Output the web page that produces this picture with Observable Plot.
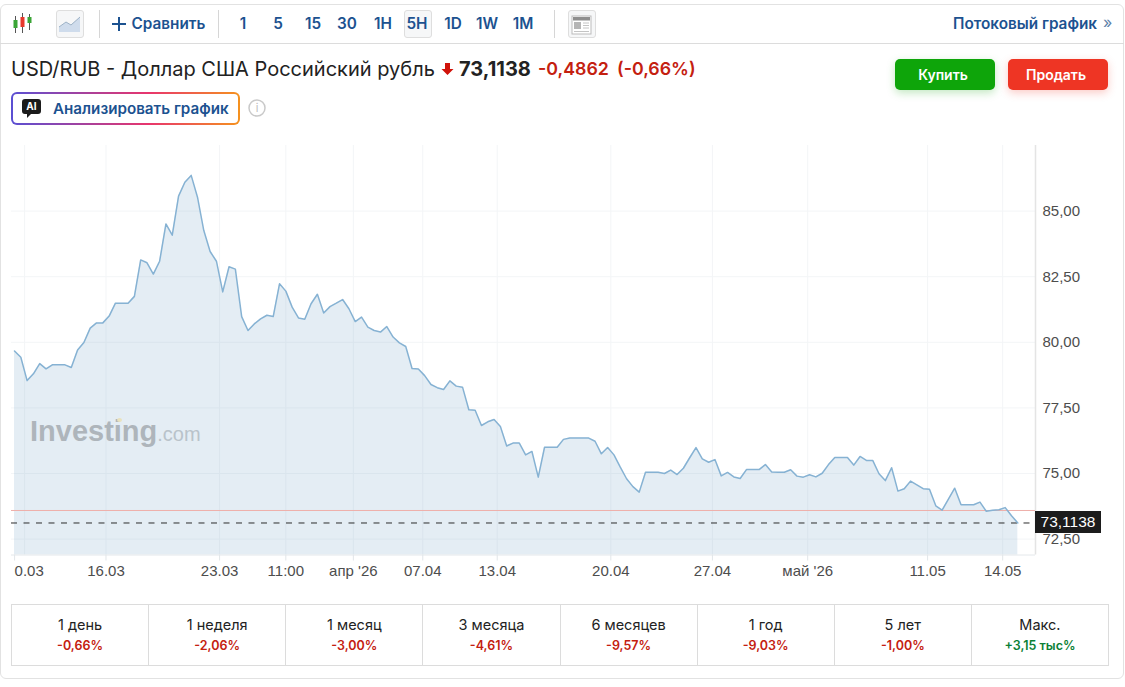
<!DOCTYPE html>
<html lang="ru">
<head>
<meta charset="utf-8">
<title>USD/RUB</title>
<script src="https://cdn.jsdelivr.net/npm/d3@7"></script>
<script src="https://cdn.jsdelivr.net/npm/@observablehq/plot@0.6"></script>
<style>
html,body{margin:0;padding:0;background:#fff;}
body{width:1125px;height:687px;position:relative;overflow:hidden;font-family:Inter,"Noto Sans",sans-serif;color:#1f1f1f;}
.abs{position:absolute;white-space:nowrap;}
#card{left:0;top:4px;width:1122px;height:673px;border:1px solid #e2e2e2;border-radius:6px;}
#rule{left:0;top:43px;width:1124px;height:1px;background:#dcdcdc;}
.sep{width:1px;height:28px;top:10px;background:#d6d6d6;}
.tb{top:10px;height:28px;line-height:28px;font-size:15.3px;font-weight:600;color:#1c5290;transform:translateX(-50%);}
.btnbox{top:10px;width:26px;height:26px;border:1px solid #dedede;border-radius:3px;background:#f6f7f8;}
.trade{top:59px;width:96px;padding-right:4px;height:31px;line-height:31px;border-radius:5px;text-align:center;color:#fff;font-size:14px;font-weight:600;}
#chart{position:absolute;left:0;top:140px;}
#chart svg{overflow:visible;display:block;}
#price{left:1035px;width:66px;height:22px;line-height:22px;background:#1c1c1c;color:#fff;text-align:center;font:15.5px/22px "Liberation Sans",Arial,sans-serif;}
#wm{left:30px;top:413px;font:bold 29px/36px "Liberation Sans",Arial,sans-serif;color:#aeb5bb;}
#wm span{font-weight:normal;font-size:20px;color:#b9c3ca;}
#wmdot{left:117px;top:418px;width:5px;height:4px;border-radius:50%;background:#e9e2bd;}
#perf{left:11px;top:604px;width:1096px;height:60px;border:1px solid #dcdcdc;display:flex;}
#perf .cell{flex:1;border-left:1px solid #dcdcdc;text-align:center;}
#perf .cell:first-child{border-left:none;}
#perf .a{font-size:14.5px;line-height:18px;margin-top:11px;color:#222;}
#perf .b{font-size:12.5px;line-height:16px;margin-top:4px;font-weight:600;}
</style>
</head>
<body>
<div class="abs" id="card"></div>
<div class="abs" id="rule"></div>

<svg class="abs" style="left:12px;top:12px" width="22" height="22" viewBox="0 0 22 22">
<g stroke="#555" stroke-width="1"><line x1="3.5" y1="4" x2="3.5" y2="21"/><line x1="10.5" y1="1" x2="10.5" y2="21"/><line x1="17.5" y1="2" x2="17.5" y2="18"/></g>
<rect x="1.5" y="8" width="4" height="8" fill="#3aa536"/><rect x="8.5" y="5" width="4" height="10" fill="#e8382c"/><rect x="15.5" y="5" width="4" height="6" fill="#3aa536"/>
</svg>
<div class="abs btnbox" style="left:56px"></div>
<svg class="abs" style="left:59px;top:15px" width="22" height="18" viewBox="0 0 22 18">
<path d="M0 12 L7 7 L12 10 L21 2 V17 H0Z" fill="#cfdcec"/><path d="M0 12 L7 7 L12 10 L21 2" fill="none" stroke="#9db2c6" stroke-width="1"/>
</svg>
<div class="abs sep" style="left:99px"></div>
<svg class="abs" style="left:111px;top:16px" width="16" height="16" viewBox="0 0 16 16"><path d="M8 1V15M1 8H15" stroke="#1c5290" stroke-width="2"/></svg>
<div class="abs tb" style="left:168.5px">Сравнить</div>
<div class="abs sep" style="left:218px"></div>
<div class="abs btnbox" style="left:404px"></div>
<div class="abs sep" style="left:554px"></div>
<div class="abs btnbox" style="left:568px"></div>
<svg class="abs" style="left:571px;top:15px" width="22" height="20" viewBox="0 0 22 20">
<rect x="1" y="1" width="19" height="18" fill="#fff" stroke="#bbb"/><rect x="2" y="2" width="17" height="3.5" fill="#8f8f8f"/><rect x="3" y="7" width="7" height="7" fill="#b5b5b5"/>
<path d="M12 8H18M12 10.5H18M12 13H18M3 16.5H18" stroke="#c4c4c4"/>
</svg>
<div class="abs tb" style="left:1025px">Потоковый график</div>
<div class="abs" style="left:1103px;top:12px;font-size:16px;color:#5d80a8">»</div>

<div class="abs" style="left:11px;top:56px;font-size:20px;line-height:26px;color:#222">USD/RUB - Доллар США Российский рубль</div>
<svg class="abs" style="left:441px;top:62px" width="13" height="14" viewBox="0 0 13 14"><path d="M4 1H9V7H12.5L6.5 13L.5 7H4Z" fill="#d0130a"/></svg>
<div class="abs" style="left:459px;top:56px;font-size:20px;font-weight:700;line-height:26px;color:#222">73,1138</div>
<div class="abs" style="left:538px;top:56px;font-size:17.8px;font-weight:600;line-height:26px;color:#c4200f">-0,4862</div>
<div class="abs" style="left:617px;top:56px;font-size:17.8px;font-weight:600;line-height:26px;color:#c4200f">(-0,66%)</div>

<div class="abs trade" style="left:895px;background:#0ea50a;box-shadow:0 3px 8px rgba(14,165,10,.25)">Купить</div>
<div class="abs trade" style="left:1008px;background:#ee3524;box-shadow:0 3px 8px rgba(238,53,36,.25)">Продать</div>

<div class="abs" style="left:11px;top:92px;width:225px;height:29px;border:2px solid transparent;border-radius:6px;background:linear-gradient(#fff,#fff) padding-box,linear-gradient(90deg,#5a4fd3,#e8356d 60%,#f5921e) border-box"></div>
<svg class="abs" style="left:22px;top:99px" width="19" height="20" viewBox="0 0 19 20">
<path d="M3 0H16A3 3 0 0 1 19 3V12A3 3 0 0 1 16 15H9L5 19V15H3A3 3 0 0 1 0 12V3A3 3 0 0 1 3 0Z" fill="#1b1b1b"/>
<text x="9.5" y="11" text-anchor="middle" font-family="Inter" font-size="10" font-weight="700" fill="#fff">AI</text>
</svg>
<div class="abs" style="left:53px;top:98px;font-size:15.2px;font-weight:600;line-height:21px;color:#1c5290">Анализировать график</div>
<svg class="abs" style="left:248px;top:99px" width="18" height="18" viewBox="0 0 18 18">
<circle cx="9" cy="9" r="8" fill="none" stroke="#c9c9c9" stroke-width="1.5"/>
<text x="9" y="13" text-anchor="middle" font-family="Inter" font-size="11" fill="#bdbdbd">i</text>
</svg>

<div id="chart"></div>
<div class="abs" id="wm">Investing<span>.com</span></div>
<div class="abs" id="wmdot"></div>
<div class="abs" id="price"></div>
<div class="abs" id="perf"></div>

<script>
// Close prices, one per 5H candle
const closes = [
79.67,79.43,78.54,78.80,79.19,78.99,79.14,79.14,79.14,79.04,
79.71,79.99,80.54,80.74,80.74,81.00,81.49,81.49,81.49,81.75,
83.14,83.03,82.60,83.09,84.51,84.08,85.57,86.10,86.36,85.53,
84.26,83.46,83.09,81.92,82.88,82.79,80.98,80.45,80.70,80.89,
81.03,80.98,82.23,81.95,81.34,80.93,80.88,81.47,81.83,81.12,
81.36,81.49,81.63,81.28,80.79,80.96,80.58,80.45,80.39,80.60,
80.20,79.98,79.84,79.00,78.98,78.73,78.39,78.27,78.20,78.53,
78.33,78.29,77.43,77.41,76.83,76.97,77.06,76.79,76.05,76.16,
76.16,75.71,75.84,74.86,76.00,76.00,76.00,76.30,76.35,76.35,
76.35,76.35,76.23,75.75,75.99,75.71,75.24,74.80,74.50,74.29,
75.05,75.05,75.05,75.00,75.13,74.96,75.20,75.60,75.99,75.56,
75.43,75.53,74.91,75.04,74.87,74.81,75.15,75.15,75.15,75.34,
75.06,75.05,75.05,75.14,74.90,74.86,74.95,74.87,75.01,75.34,
75.61,75.61,75.61,75.32,75.65,75.50,75.50,74.99,74.73,75.22,
74.33,74.42,74.71,74.57,74.42,74.40,73.77,73.60,74.02,74.44,
73.81,73.81,73.81,73.91,73.56,73.60,73.62,73.70,73.39,73.1138
];
const lastPrice = 73.1138;
const prevClose = 73.59;
const yTicks = [72.5,75,77.5,80,82.5,85];
const xTickPositions = [14.5,32.5,43,53.7,64.7,76.5,94.5,110.6,125.7,144.7,156.6];
const xTickLabels = ["16.03","23.03","11:00","апр '26","07.04","13.04","20.04","27.04","май '26","11.05","14.05"];
const firstTickPosition = 1.6;
const firstTickLabel = "0.03";
const yDomain = [71.894,87.5];
const xDomain = [-0.475,161.8];

const periodNames = ["1 день","1 неделя","1 месяц","3 месяца","6 месяцев","1 год","5 лет","Макс."];
const periodChanges = ["-0,66%","-2,06%","-3,00%","-4,61%","-9,57%","-9,03%","-1,00%","+3,15 тыс%"];
const intervals = ["1","5","15","30","1H","5H","1D","1W","1M"];
const intervalCenters = [243,278,313,347,383,417,453,487,523];

const fmt = d => d.toFixed(2).replace(".",",");
const gridColor = "#f3f5f7";
const axisFont = "'Liberation Sans',Arial,sans-serif";

const chart = Plot.plot({
  width:1125, height:450,
  marginLeft:11, marginRight:90, marginTop:5, marginBottom:35.5,
  style:{fontFamily:axisFont,background:"transparent",overflow:"visible"},
  x:{domain:xDomain},
  y:{domain:yDomain},
  marks:[
    Plot.gridX({ticks:[firstTickPosition,...xTickPositions],stroke:gridColor,strokeOpacity:1}),
    Plot.gridY({ticks:yTicks,stroke:gridColor,strokeOpacity:1}),
    Plot.areaY(closes,{x:(d,i)=>i,y1:yDomain[0],y2:d=>d,fill:"#7fa8c9",fillOpacity:0.21}),
    Plot.ruleY([yDomain[0]],{stroke:"#e4e8eb"}),
    Plot.ruleX([xDomain[1]],{stroke:"#e4e4e4",strokeWidth:1.5}),
    Plot.ruleY([prevClose],{stroke:"#eeb0ab",strokeWidth:1}),
    Plot.ruleY([lastPrice],{stroke:"#2c2c2c",strokeWidth:1,strokeDasharray:"6 6.5"}),
    Plot.lineY(closes,{x:(d,i)=>i,y:d=>d,stroke:"#86b2d3",strokeWidth:1.5,curve:"linear"}),
    Plot.axisX({ticks:xTickPositions,tickFormat:d=>xTickLabels[xTickPositions.indexOf(d)],label:null,tickSize:6,tickPadding:4,stroke:"#e2e6e9",fill:"#4d4d4d",fontSize:15}),
    Plot.axisX({ticks:[firstTickPosition],tickFormat:()=>firstTickLabel,label:null,tickSize:6,tickPadding:4,stroke:"#e2e6e9",fill:"#4d4d4d",fontSize:15,textAnchor:"start",dx:-10}),
    Plot.axisY({ticks:yTicks,tickFormat:fmt,anchor:"right",label:null,tickSize:0,tickPadding:7,fill:"#4d4d4d",fontSize:15})
  ]
});
document.getElementById("chart").appendChild(chart);

const priceBox = document.getElementById("price");
priceBox.textContent = lastPrice.toFixed(4).replace(".",",");
priceBox.style.top = (140 + chart.scale("y").apply(lastPrice) - 11) + "px";

intervals.forEach((t,i)=>{
  const el = document.createElement("div");
  el.className = "abs tb";
  el.style.left = intervalCenters[i]+"px";
  el.textContent = t;
  document.body.appendChild(el);
});

const perf = document.getElementById("perf");
periodNames.forEach((n,i)=>{
  const c = document.createElement("div");
  c.className = "cell";
  const col = periodChanges[i].startsWith("+") ? "#0b7f35" : "#c4200f";
  c.innerHTML = `<div class="a">${n}</div><div class="b" style="color:${col}">${periodChanges[i]}</div>`;
  perf.appendChild(c);
});
</script>
</body>
</html>
